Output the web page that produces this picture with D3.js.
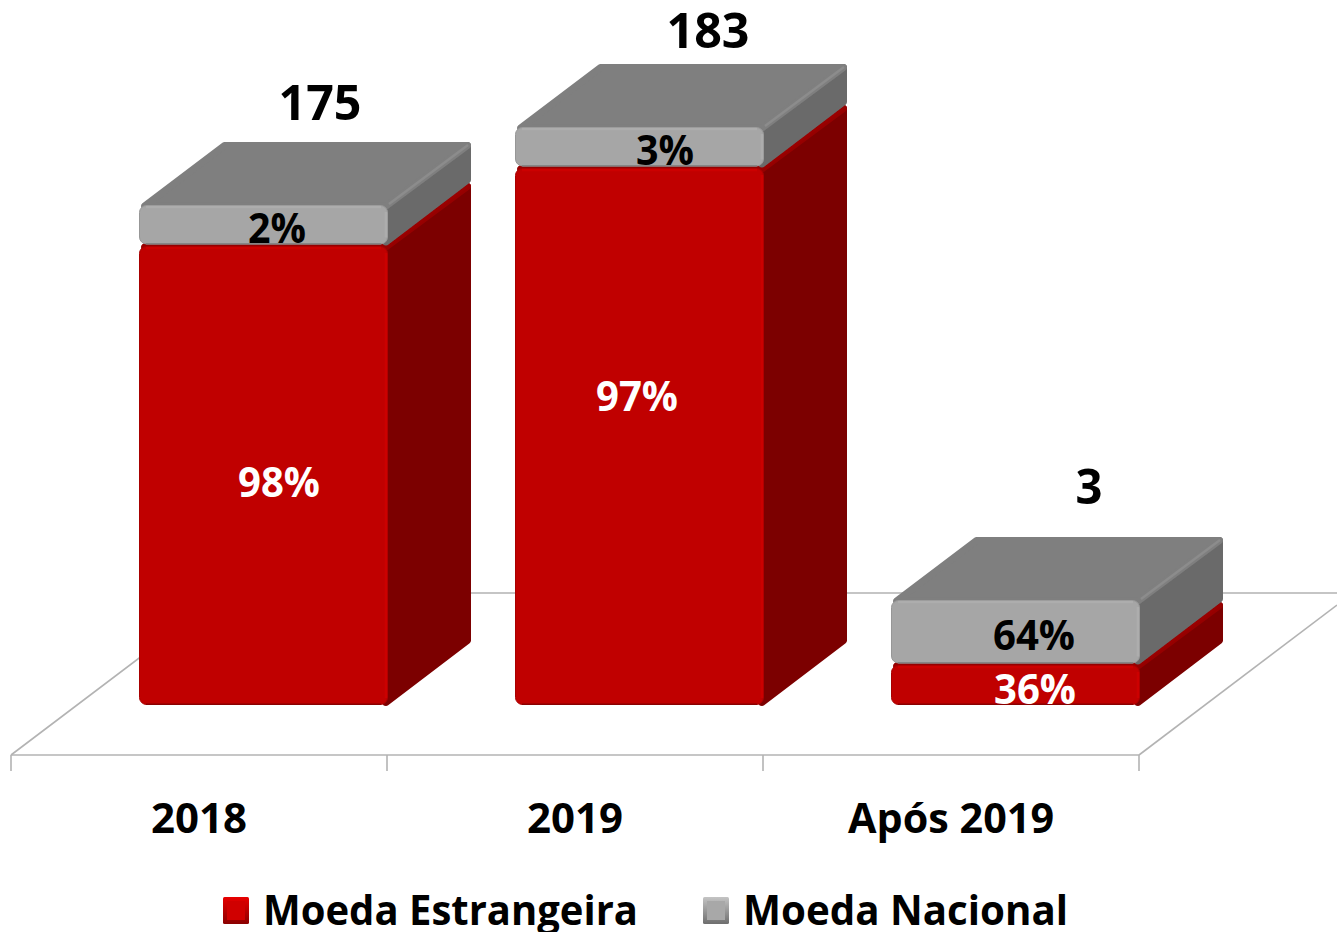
<!DOCTYPE html>
<html><head><meta charset="utf-8">
<script src="https://cdn.jsdelivr.net/npm/d3@7"></script>
<style>html,body{margin:0;padding:0;background:#fff}svg{display:block}text{font-family:"Open Sans",sans-serif;font-weight:700}</style>
</head><body><svg id="c" width="1337" height="932"></svg>
<script>
const categories=["2018","2019","Após 2019"];
const totals=[175,183,3];
const redPct=[98,97,36];
const grayPct=[2,3,64];
// drawn heights (the source chart is not proportional to its labels)
const redDrawn=[45.9,53.7,4.0];
const grayDrawn=[4.1,4.1,6.5];
const seriesNames=["Moeda Estrangeira","Moeda Nacional"];

const svg=d3.select("#c");
const x=d3.scaleBand().domain(categories).range([11,1139]).padding(0);
const y=d3.scaleLinear().domain([0,60]).range([705,105]);
const barOffset=128, barW=249, dx=83, dy=63;
const floorY=755, floorBackY=593, tickLen=16, slope=(floorY-floorBackY)/214;

const defs=svg.append("defs");
const blur=defs.append("filter").attr("id","soft").attr("x","-5%").attr("y","-5%").attr("width","110%").attr("height","110%");
blur.append("feGaussianBlur").attr("stdDeviation",0.7);
function swatchGrad(id,a,b){
  const g=defs.append("linearGradient").attr("id",id).attr("x1",0).attr("y1",0).attr("x2",0).attr("y2",1);
  g.append("stop").attr("offset","0%").attr("stop-color",a);
  g.append("stop").attr("offset","100%").attr("stop-color",b);
}
swatchGrad("swR","#e80000","#8a0000");
swatchGrad("swG","#c4c4c4","#6e6e6e");

// floor
const line="#b3b3b3";
const floor=svg.append("g").attr("fill","none").attr("stroke",line).attr("stroke-width",1.6);
const [x0,x1]=x.range();
floor.append("path").attr("d",`M${x0},${floorY}L${x1},${floorY}`);
floor.append("path").attr("d",`M${x0},${floorY}L${x0+214},${floorBackY}L1337,${floorBackY}`);
floor.append("path").attr("d",`M${x1},${floorY}L1337,${floorY-(1337-x1)*slope}`);
categories.concat([null]).forEach((c)=>{
  const tx=c?x(c):x1;
  floor.append("path").attr("d",`M${tx},${floorY}V${floorY+tickLen}`);
});

function box(g,xl,yb,yt,c){
  const xr=xl+barW;
  const rx=7, r=3.5;
  // side, rounded by a thick round-joined stroke around an inset outline
  g.append("path").attr("d",`M${xr-2},${yb-r+1}L${xr+dx-r},${yb-dy-r+2}V${yt-dy+r}L${xr-2},${yt+r}Z`)
    .attr("fill",c.side).attr("stroke",c.side).attr("stroke-width",2*r).attr("stroke-linejoin","round");
  // top
  g.append("path").attr("d",`M${xl+r+2},${yt+1}L${xl+dx+r-1},${yt-dy+r}H${xr+dx-r}L${xr-2},${yt+1}Z`)
    .attr("fill",c.top).attr("stroke",c.top).attr("stroke-width",2*r).attr("stroke-linejoin","round");
  // bevel along the shared edge of top and side
  g.append("path").attr("d",`M${xr+1},${yt-1}L${xr+dx-3},${yt-dy+3}`).attr("stroke",c.bevel).attr("stroke-width",2.5).attr("fill","none");
  // front
  g.append("rect").attr("x",xl+.5).attr("y",yt+.5).attr("width",barW-1).attr("height",yb-yt-1).attr("rx",rx)
    .attr("fill",c.front).attr("stroke",c.edge).attr("stroke-width",1);
  g.append("path").attr("d",`M${xl+rx},${yt+2}H${xr-rx}`).attr("stroke",c.hi).attr("stroke-width",2.5);
  g.append("path").attr("d",`M${xr-2},${yt+rx}V${yb-rx}`).attr("stroke",c.hi).attr("stroke-width",2.5);
  g.append("path").attr("d",`M${xl+rx},${yb-.8}H${xr-rx}`).attr("stroke",c.lo).attr("stroke-width",1.6);
}
const redC={front:"#c00000",side:"#7c0000",top:"#960000",bevel:"#9a0000",edge:"#a80000",hi:"#cc0000",lo:"#8a0000"};
const grayC={front:"#a6a6a6",side:"#6b6b6b",top:"#7f7f7f",bevel:"#8c8c8c",edge:"#979797",hi:"#adadad",lo:"#858585"};

const marks=svg.append("g").attr("filter","url(#soft)");
categories.forEach((c,i)=>{
  const g=marks.append("g");
  const xl=x(c)+barOffset;
  box(g,xl,y(0),y(redDrawn[i]),redC);
  box(g,xl,y(redDrawn[i])-1.5,y(redDrawn[i]+grayDrawn[i]),grayC);
});

function label(txt,cx,by,size,len,fill){
  svg.append("text").text(txt).attr("x",cx).attr("y",by).attr("text-anchor","middle")
    .attr("font-size",size).attr("fill",fill||"#000")
    .attr("textLength",len).attr("lengthAdjust","spacingAndGlyphs");
}
const pctLabelX=[279,637,1035];
const pctW=82;
// value labels
const totalX=[320,708,1089], totalBase=[120,48,504], totalW=[83,83,27];
totals.forEach((t,i)=>label(String(t),totalX[i],totalBase[i],49,totalW[i]));
const grayLabelX=[277,665,1034], grayBase=[243,165,650];
grayPct.forEach((p,i)=>{
  const w=i===2?82:58;
  label(p+"%",grayLabelX[i],grayBase[i],42,w);
});
const redBase=[497,411,704];
redPct.forEach((p,i)=>label(p+"%",pctLabelX[i],redBase[i],42,pctW,"#fff"));

// category labels
const catW=[96,96,206];
categories.forEach((c,i)=>label(c,x(c)+188,833,42,catW[i]));

// legend
const legX=[223,703], legTextX=[263,743], legW=[375,325];
const swatchFace=["#d00000","#a8a8a8"];
seriesNames.forEach((s,i)=>{
  svg.append("rect").attr("x",legX[i]).attr("y",897).attr("width",26).attr("height",27).attr("rx",1.5)
    .attr("fill",i?"url(#swG)":"url(#swR)");
  svg.append("rect").attr("x",legX[i]+4).attr("y",901).attr("width",18).attr("height",19).attr("fill",swatchFace[i]).attr("filter","url(#soft)");
  svg.append("text").text(s).attr("x",legTextX[i]).attr("y",925).attr("font-size",42)
    .attr("textLength",legW[i]).attr("lengthAdjust","spacingAndGlyphs");
});
</script></body></html>
